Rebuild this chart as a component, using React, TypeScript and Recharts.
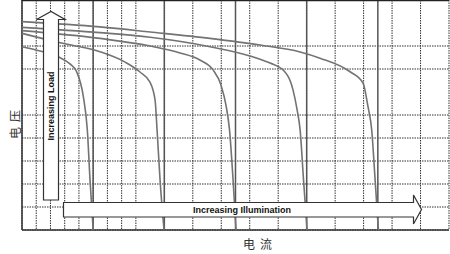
import { LineChart, Line, XAxis, YAxis, CartesianGrid, ReferenceLine } from 'recharts';

// each curve: current (grid divisions) and voltage (grid divisions)
const current1 = [0, 0.98, 2.55, 3.37, 3.84, 4.31, 4.59, 4.78, 5.0];
const voltage1 = [7.97, 7.83, 7.53, 7.22, 6.88, 5.8, 4.35, 2.17, 0];

const current2 = [0, 2.67, 5.48, 7.24, 8.29, 8.99, 9.35, 9.49, 9.7, 9.98];
const voltage2 = [8.55, 8.14, 7.75, 7.3, 6.87, 6.43, 5.65, 4.35, 2.17, 0];

const current3 = [0, 5.48, 9.0, 11.1, 12.5, 13.42, 13.98, 14.33, 14.58, 14.83, 15.04];
const voltage3 = [8.67, 8.33, 8.0, 7.7, 7.39, 6.96, 6.3, 5.43, 4.35, 2.17, 0];

const current4 = [0, 5.48, 9.0, 13.21, 16.02, 17.43, 18.34, 19.04, 19.33, 19.54, 19.78, 20.03];
const voltage4 = [8.81, 8.58, 8.38, 7.97, 7.57, 7.26, 6.96, 6.09, 5.22, 4.35, 2.17, 0];

const current5 = [0, 5.48, 9.0, 13.21, 16.73, 19.54, 20.94, 23.05, 23.96, 24.31, 24.57, 24.81, 25.04];
const voltage5 = [9.06, 8.83, 8.61, 8.33, 8.04, 7.74, 7.47, 6.88, 6.39, 5.36, 4.35, 2.17, 0];

const xTicks = Array.from({ length: 31 }, (_, i) => i);
const yTicks = Array.from({ length: 11 }, (_, i) => i);
const majorX = [5, 10, 15, 20, 25];

const toSeries = (cur: number[], volt: number[]) => cur.map((i, k) => ({ i, v: volt[k] }));

const curves = [
  toSeries(current1, voltage1),
  toSeries(current2, voltage2),
  toSeries(current3, voltage3),
  toSeries(current4, voltage4),
  toSeries(current5, voltage5),
];

const arrowStyle = { fill: '#fff', stroke: '#333', strokeWidth: 1.2 };
const arrowText = {
  fontFamily: '"Liberation Sans", Arial, sans-serif',
  fontWeight: 700,
  fontSize: 9,
  fill: '#111',
};
const cjkText = {
  fontFamily: '"Noto Sans CJK SC", sans-serif',
  fontSize: 12,
  fill: '#333',
  letterSpacing: 5,
};

export default function App() {
  return (
    <div style={{ position: 'absolute', left: 0, top: 0, width: 450, height: 254, background: '#fff' }}>
      <LineChart width={450} height={254} margin={{ top: 0, right: 1, left: 22, bottom: 24 }}>
        <XAxis dataKey="i" type="number" domain={[0, 30]} ticks={xTicks} hide />
        <YAxis type="number" domain={[0, 10]} ticks={yTicks} hide />
        <CartesianGrid stroke="#333" strokeDasharray="1.5 1" />
        {majorX.map((x) => (
          <ReferenceLine key={x} x={x} stroke="#555" strokeWidth={1.5} />
        ))}
        <ReferenceLine x={0} stroke="#333" strokeWidth={1.5} />
        <ReferenceLine y={0} stroke="#333" strokeWidth={1.5} />
        <ReferenceLine y={10} stroke="#222" strokeWidth={2.5} />
        {curves.map((d, k) => (
          <Line
            key={k}
            data={d}
            dataKey="v"
            type="monotone"
            stroke="#737373"
            strokeWidth={1.6}
            dot={false}
            isAnimationActive={false}
          />
        ))}
      </LineChart>
      <svg width={450} height={254} style={{ position: 'absolute', left: 0, top: 0 }}>
        {/* Increasing Load arrow */}
        <polygon points="43.5,200 58.5,200 58.5,19.5 65,19.5 51,11.5 36.5,19.5 43.5,19.5" {...arrowStyle} />
        <text x={51} y={106} transform="rotate(-90 51 106)" textAnchor="middle" dominantBaseline="central" style={arrowText}>
          Increasing Load
        </text>
        {/* Increasing Illumination arrow */}
        <polygon points="63.5,202.5 413.5,202.5 413.5,195 421.5,209.5 413.5,224 413.5,217 63.5,217" {...arrowStyle} />
        <text x={242} y={210} textAnchor="middle" dominantBaseline="central" style={arrowText}>
          Increasing Illumination
        </text>
        <text x={14} y={122} transform="rotate(-90 14 122)" textAnchor="middle" dominantBaseline="central" style={cjkText}>
          电压
        </text>
        <text x={260} y={243} textAnchor="middle" dominantBaseline="central" style={cjkText}>
          电流
        </text>
      </svg>
    </div>
  );
}
